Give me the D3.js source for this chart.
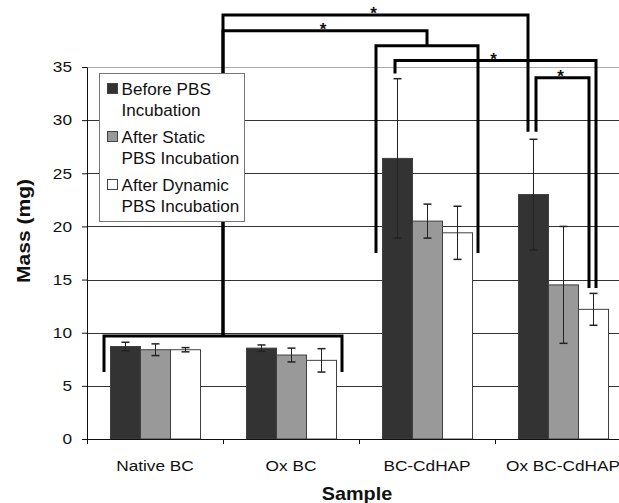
<!DOCTYPE html>
<html>
<head>
<meta charset="utf-8">
<script src="https://cdn.jsdelivr.net/npm/d3@7"></script>
<style>
  body { margin: 0; background: #fff; }
  text { font-family: "Liberation Sans", Arial, sans-serif; fill: #111; }
</style>
</head>
<body>
<script>
// sample groups and the three incubation conditions
var categories = ["Native BC", "Ox BC", "BC-CdHAP", "Ox BC-CdHAP"];
var seriesNames = ["Before PBS Incubation", "After Static PBS Incubation", "After Dynamic PBS Incubation"];
var legendLines = [["Before PBS", "Incubation"], ["After Static", "PBS Incubation"], ["After Dynamic", "PBS Incubation"]];

// mass in mg
var beforeVals   = [8.7, 8.55, 26.4, 23.0];
var beforeErr    = [0.4, 0.3, 7.5, 5.2];
var staticVals   = [8.4, 7.9, 20.5, 14.5];
var staticErr    = [0.55, 0.65, 1.6, 5.5];
var dynamicVals  = [8.4, 7.4, 19.4, 12.2];
var dynamicErr   = [0.2, 1.1, 2.5, 1.5];

var yTicks = [0, 5, 10, 15, 20, 25, 30, 35];

// grouping brackets (mg levels)
var groupBrackets = [
  {cats: ["Native BC", "Ox BC"], top: 9.7, legs: 6.3},
  {cats: ["BC-CdHAP"], top: 37.0, legs: 17.5}
];
// significance brackets, each ends at a group bracket or a single bar
var sigBrackets = [
  {from: {group: 0}, to: {cat: "Ox BC-CdHAP", s: 0}, top: 39.9, toEnd: 28.9},
  {from: {group: 0}, to: {group: 1}, top: 38.4},
  {from: {cat: "BC-CdHAP", s: 0}, to: {cat: "Ox BC-CdHAP", s: 2}, top: 35.6, fromEnd: 34.4, toEnd: 14.2},
  {from: {cat: "Ox BC-CdHAP", s: 0}, to: {cat: "Ox BC-CdHAP", s: 2}, top: 34.0, fromEnd: 28.9, toEnd: 14.2}
];

var values = [beforeVals, staticVals, dynamicVals];
var errors = [beforeErr, staticErr, dynamicErr];
var fills = ["#333333", "#999999", "#ffffff"];

var W = 619, H = 503;
var plotLeft = 87, plotRight = 631, plotTop = 67, plotBottom = 439;

var svg = d3.select("body").append("svg")
  .attr("width", W).attr("height", H);

var x0 = d3.scaleBand().domain(categories).range([plotLeft, plotRight]);
var x1 = d3.scaleBand().domain(d3.range(3)).range([23, 113]);
var y = d3.scaleLinear().domain([0, 35]).range([plotBottom, plotTop]);
var xIdx = d3.scaleLinear().domain([0, categories.length]).range([plotLeft, plotRight]);

var sx = 1.15; // the source font is set wide

// gridlines
svg.append("g").selectAll("line")
  .data(yTicks.slice(1))
  .join("line")
  .attr("x1", plotLeft).attr("x2", plotRight)
  .attr("y1", function(d) { return Math.round(y(d)) + 0.5; })
  .attr("y2", function(d) { return Math.round(y(d)) + 0.5; })
  .attr("stroke", function(d) { return d == 35 ? "#aaa" : "#333"; })
  .attr("stroke-width", 1);

// bars
var bars = [];
categories.forEach(function(c, i) {
  for (var s = 0; s < 3; s++) {
    bars.push({cat: c, s: s, v: values[s][i], e: errors[s][i]});
  }
});

svg.append("g").selectAll("rect")
  .data(bars)
  .join("rect")
  .attr("x", function(d) { return x0(d.cat) + x1(d.s) + 0.5; })
  .attr("y", function(d) { return y(d.v); })
  .attr("width", x1.bandwidth())
  .attr("height", function(d) { return y(0) - y(d.v); })
  .attr("fill", function(d) { return fills[d.s]; })
  .attr("stroke", "#404040")
  .attr("stroke-width", 1);

// error bars
var eb = svg.append("g").attr("stroke", "#222").attr("stroke-width", 1);
bars.forEach(function(d) {
  var cx = Math.round(x0(d.cat) + x1(d.s) + x1.bandwidth() / 2) + 0.5;
  eb.append("line").attr("x1", cx).attr("x2", cx)
    .attr("y1", y(d.v + d.e)).attr("y2", y(d.v - d.e));
  [d.v + d.e, d.v - d.e].forEach(function(v) {
    eb.append("line").attr("x1", cx - 4).attr("x2", cx + 4)
      .attr("y1", y(v)).attr("y2", y(v)).attr("stroke-width", 1.5);
  });
});

// axes
var yAxis = svg.append("g")
  .attr("transform", "translate(" + plotLeft + ",0)")
  .call(d3.axisLeft(y).tickValues(yTicks).tickSize(5).tickSizeOuter(0).tickPadding(15));
yAxis.select(".domain").attr("stroke", "#111");
yAxis.selectAll(".tick line").attr("stroke", "#111");
yAxis.selectAll(".tick text")
  .style("font-size", "15px")
  .attr("font-family", null)
  .attr("x", -15 / sx)
  .attr("transform", "scale(" + sx + ",1)");

var xAxis = svg.append("g")
  .attr("transform", "translate(0," + plotBottom + ")")
  .call(d3.axisBottom(xIdx).tickValues(d3.range(categories.length + 1)).tickSize(5).tickSizeOuter(0).tickFormat(""));
xAxis.select(".domain").attr("stroke", "#111");
xAxis.selectAll(".tick line").attr("stroke", "#111");

function wideText(g, x, yy, str, size, weight, anchor, scale) {
  return g.append("text")
    .attr("transform", "translate(" + x + "," + yy + ") scale(" + scale + ",1)")
    .attr("text-anchor", anchor)
    .style("font-size", size + "px")
    .style("font-weight", weight)
    .text(str);
}

categories.forEach(function(c) {
  wideText(svg, x0(c) + x0.bandwidth() / 2, 471, c, 15, "normal", "middle", sx);
});
wideText(svg, (plotLeft + plotRight) / 2 - 2, 500, "Sample", 18, "bold", "middle", 1.1);

svg.append("text")
  .attr("transform", "translate(30,231) rotate(-90) scale(1.17,1)")
  .attr("text-anchor", "middle")
  .style("font-size", "18px")
  .style("font-weight", "bold")
  .text("Mass (mg)");

// brackets
var br = svg.append("g")
  .attr("fill", "none").attr("stroke", "#000")
  .attr("stroke-width", 3).attr("stroke-linejoin", "miter");

function barCenter(cat, s) { return x0(cat) + x1(s) + x1.bandwidth() / 2; }
var groupInfo = groupBrackets.map(function(g) {
  var left = x0(g.cats[0]) + x1(0) - 6;
  var right = x0(g.cats[g.cats.length - 1]) + x1(2) + x1.bandwidth() + 6;
  br.append("path").attr("d", d3.line()([
    [left, y(g.legs)], [left, y(g.top)], [right, y(g.top)], [right, y(g.legs)]
  ]));
  return {cx: (left + right) / 2, top: g.top};
});

// small sideways shifts so legs that share a bar sit side by side
var legNudge = [[0, -5], [0, 0], [-2, 3], [3, -4]];

sigBrackets.forEach(function(b, i) {
  function end(p, endVal, nudge) {
    if (p.group != null) {
      return {x: groupInfo[p.group].cx, y: y(groupInfo[p.group].top)};
    }
    return {x: barCenter(p.cat, p.s) + nudge, y: y(endVal)};
  }
  var a = end(b.from, b.fromEnd, legNudge[i][0]);
  var c = end(b.to, b.toEnd, legNudge[i][1]);
  br.append("path").attr("d", d3.line()([
    [a.x, a.y], [a.x, y(b.top)], [c.x, y(b.top)], [c.x, c.y]
  ]));
  svg.append("text")
    .attr("x", (a.x + c.x) / 2 - 2)
    .attr("y", y(b.top) + 4)
    .attr("text-anchor", "middle")
    .style("font-size", "17px")
    .style("font-weight", "bold")
    .text("*");
});

// legend
var lg = svg.append("g").attr("transform", "translate(99.5,73.5)");
lg.append("rect").attr("width", 145).attr("height", 148)
  .attr("fill", "#fff").attr("stroke", "#777").attr("stroke-width", 1);
seriesNames.forEach(function(name, i) {
  var top = 10 + i * 48;
  lg.append("rect").attr("x", 8).attr("y", top).attr("width", 10).attr("height", 10)
    .attr("fill", fills[i]).attr("stroke", "#444").attr("stroke-width", 1);
  legendLines[i].forEach(function(line, j) {
    wideText(lg, 22, top + 11 + j * 21, line, 16, "normal", "start", 1.07);
  });
});
</script>
</body>
</html>
